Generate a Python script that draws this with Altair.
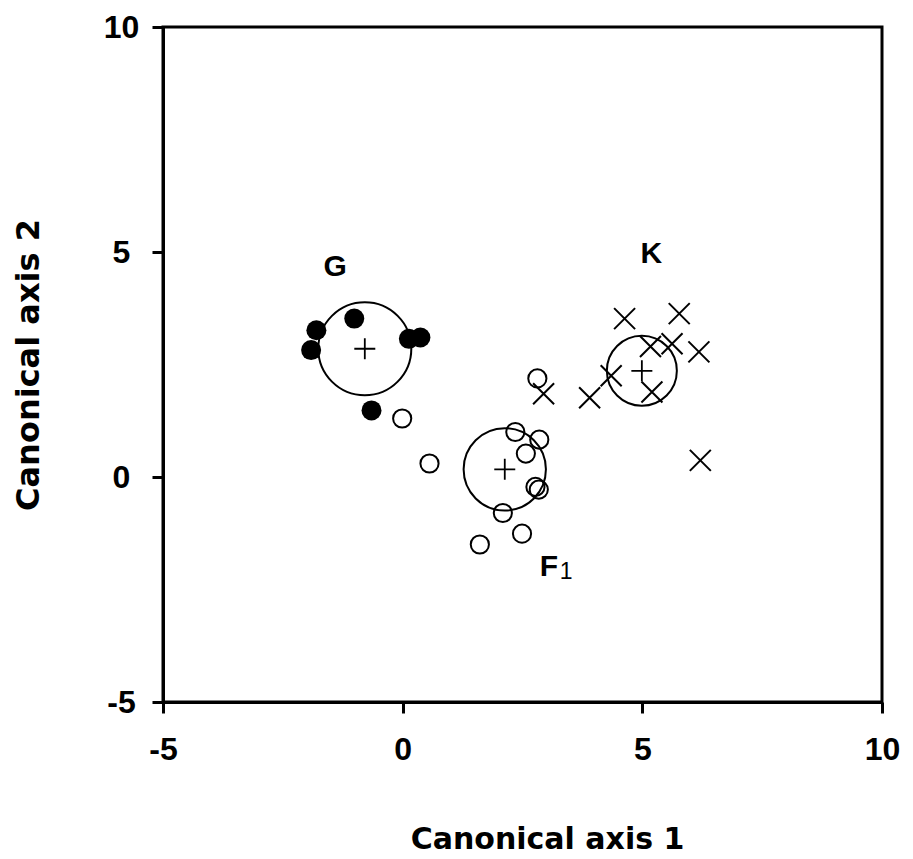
import altair as alt
import pandas as pd

# Group G (filled circles)
g_x = [-1.01, -1.80, -1.91, 0.13, 0.37, -0.65]
g_y = [3.52, 3.26, 2.82, 3.07, 3.10, 1.48]
# Group F1 (open circles)
f_x = [-0.01, 0.56, 2.35, 2.85, 2.57, 2.77, 2.84, 2.09, 2.49, 1.61, 2.81]
f_y = [1.30, 0.30, 1.00, 0.83, 0.52, -0.22, -0.28, -0.80, -1.26, -1.50, 2.19]
# Group K (crosses)
k_x = [4.63, 5.77, 5.17, 5.62, 6.18, 4.35, 3.90, 5.20, 6.21, 2.94]
k_y = [3.52, 3.63, 2.90, 2.96, 2.78, 2.25, 1.76, 1.89, 0.37, 1.85]
# Group centroids
centroid_group = ["G", "F1", "K"]
centroid_x = [-0.79, 2.13, 4.99]
centroid_y = [2.85, 0.17, 2.36]
# Group labels
label_text = ["G", "K", "F"]
label_x = [-1.41, 5.19, 3.05]
label_y = [4.67, 4.96, -2.00]
sub_text = ["1"]
sub_x = [3.41]
sub_y = [-2.12]
ticks = [-5, 0, 5, 10]

g_df = pd.DataFrame({"x": g_x, "y": g_y})
f_df = pd.DataFrame({"x": f_x, "y": f_y})
k_df = pd.DataFrame({"x": k_x, "y": k_y})
c_df = pd.DataFrame({"group": centroid_group, "x": centroid_x, "y": centroid_y})
l_df = pd.DataFrame({"t": label_text, "x": label_x, "y": label_y})
s_df = pd.DataFrame({"t": sub_text, "x": sub_x, "y": sub_y})

lab_expr = "datum.value < 0 ? '-' + toString(-datum.value) : toString(datum.value)"

x_axis = alt.Axis(
    values=ticks, title="Canonical axis 1", grid=False,
    tickSize=11, tickWidth=3, tickColor="black",
    domainWidth=3, domainColor="black",
    labelFont="Liberation Sans", labelFontSize=32, labelFontWeight="bold",
    labelColor="black", labelPadding=21, labelAngle=0, labelFlush=False,
    labelOverlap=False, labelExpr=lab_expr,
    titleFont="DejaVu Sans", titleFontSize=30, titleFontWeight="bold",
    titleColor="black", titleX=384, titleY=146, titleBaseline="alphabetic",
    titleAlign="center",
)
y_axis = alt.Axis(
    values=ticks, title="Canonical axis 2", grid=False,
    tickSize=11, tickWidth=3, tickColor="black",
    domainWidth=3, domainColor="black",
    labelFont="Liberation Sans", labelFontSize=32, labelFontWeight="bold",
    labelColor="black", labelPadding=31, labelAlign="center",
    labelBaseline="middle", labelFlush=False, labelOverlap=False,
    labelExpr=lab_expr,
    titleFont="DejaVu Sans", titleFontSize=32, titleFontWeight="bold",
    titleColor="black", titleX=-125, titleY=337.5, titleAngle=270,
    titleBaseline="alphabetic", titleAlign="center",
)

xs = alt.Scale(domain=[-5, 10], nice=False, zero=False)
ys = alt.Scale(domain=[-5, 10], nice=False, zero=False)

X = alt.X("x:Q", scale=xs, axis=x_axis)
Y = alt.Y("y:Q", scale=ys, axis=y_axis)

rings = alt.Chart(c_df).mark_point(
    shape="circle", strokeWidth=2, color="black", opacity=1
).encode(
    x=X, y=Y,
    size=alt.Size("group:N", scale=alt.Scale(domain=["G", "F1", "K"],
                                              range=[8650, 4900, 5180]),
                  legend=None),
)
plus = alt.Chart(c_df).mark_point(
    shape="M-1,0L1,0M0,-1L0,1", size=441, strokeWidth=1.8,
    color="black", opacity=1
).encode(x=X, y=Y)

g_pts = alt.Chart(g_df).mark_point(
    shape="circle", filled=True, size=400, color="black", opacity=1
).encode(x=X, y=Y)

f_pts = alt.Chart(f_df).mark_point(
    shape="circle", size=330, strokeWidth=2, color="black", opacity=1
).encode(x=X, y=Y)

k_pts = alt.Chart(k_df).mark_point(
    shape="M-1,-1L1,1M-1,1L1,-1", size=441, strokeWidth=2,
    color="black", opacity=1
).encode(x=X, y=Y)

labels = alt.Chart(l_df).mark_text(
    font="Liberation Sans", fontSize=30, fontWeight="bold",
    align="center", baseline="middle", color="black"
).encode(x=X, y=Y, text="t:N")

sub = alt.Chart(s_df).mark_text(
    font="Liberation Sans", fontSize=23, align="center",
    baseline="middle", color="black"
).encode(x=X, y=Y, text="t:N")

chart = alt.layer(rings, plus, g_pts, f_pts, k_pts, labels, sub).properties(
    width=719, height=675,
    autosize=alt.AutoSizeParams(type="none"),
    padding={"left": 163, "top": 27, "right": 31, "bottom": 157},
    background="white",
).configure_view(stroke="black", strokeWidth=3)

chart.save("out.html", embed_options={"renderer": "svg", "actions": False})
